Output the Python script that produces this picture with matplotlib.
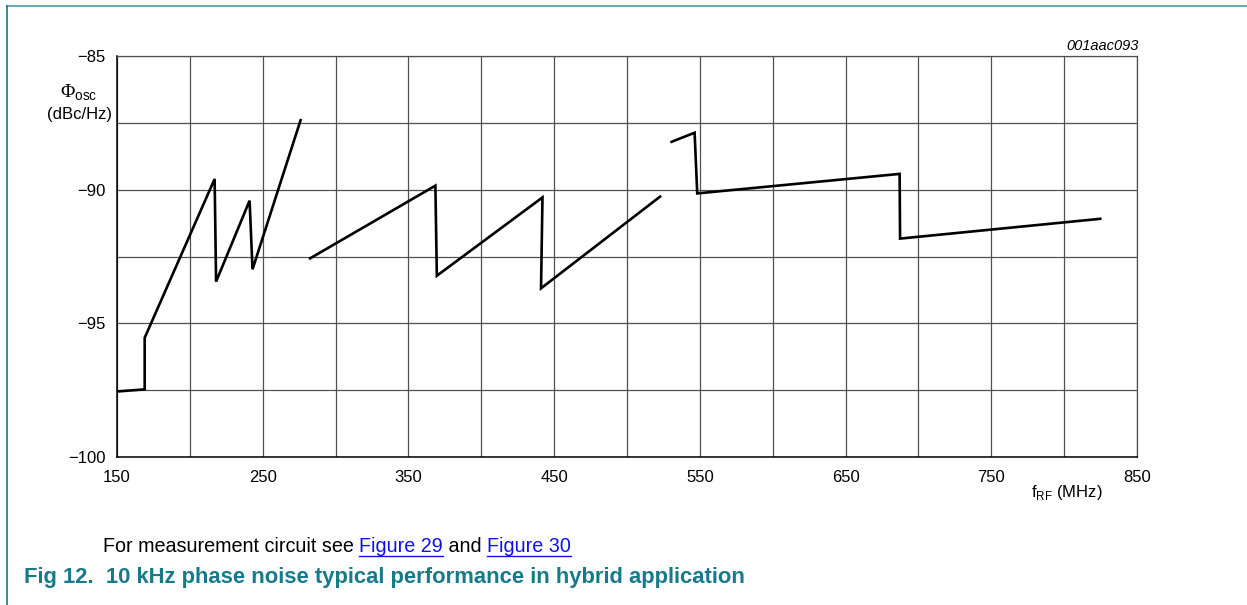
import matplotlib.pyplot as plt
import numpy as np
from matplotlib.lines import Line2D

plt.rcParams['font.family'] = ['Liberation Sans', 'DejaVu Sans']
plt.rcParams['mathtext.fontset'] = 'custom'
plt.rcParams['mathtext.rm'] = 'Liberation Serif'
plt.rcParams['mathtext.sf'] = 'Liberation Sans'

# phase noise curve (three separate band segments), f in MHz, phi in dBc/Hz
seg1_f = [150, 169, 169, 217, 218, 241, 243, 276]
seg1_phi = [-97.55, -97.47, -95.54, -89.6, -93.44, -90.41, -92.98, -87.4]
seg2_f = [282.5, 368.5, 369.5, 442, 441, 522.7]
seg2_phi = [-92.57, -89.85, -93.22, -90.29, -93.69, -90.26]
seg3_f = [530.6, 546.4, 548.2, 687.1, 687.4, 824.8]
seg3_phi = [-88.21, -87.87, -90.14, -89.41, -91.83, -91.09]

xticks = [150, 250, 350, 450, 550, 650, 750, 850]
yticks = [-100, -95, -90, -85]

fig = plt.figure(figsize=(12.47, 6.05), dpi=100)
ax = fig.add_axes([117/1247, 1-457/605, 1020/1247, 401/605])

for fx, py in [(seg1_f, seg1_phi), (seg2_f, seg2_phi), (seg3_f, seg3_phi)]:
    ax.plot(fx, py, color='black', lw=1.9, solid_joinstyle='miter', zorder=3)

ax.set_xlim(150, 850)
ax.set_ylim(-100, -85)
ax.set_xticks(np.arange(150, 851, 50), minor=True)
ax.set_yticks(np.arange(-100, -84, 2.5), minor=True)
ax.set_xticks(xticks)
ax.set_yticks(yticks)
ax.set_xticklabels([str(v) for v in xticks])
ax.set_yticklabels(['\u2212' + str(-v) for v in yticks])
ax.grid(which='both', color='#505050', lw=0.9)
ax.tick_params(which='both', length=0, labelsize=12)
ax.tick_params(axis='x', pad=9)
ax.tick_params(axis='y', pad=8)
for s in ['top', 'right']:
    ax.spines[s].set_color('#505050')
    ax.spines[s].set_linewidth(0.9)
for s in ['bottom', 'left']:
    ax.spines[s].set_color('black')
    ax.spines[s].set_linewidth(1.1)

# axis labels
fig.text(79/1247, 1-93/605, r'$\mathrm{\Phi}_{\mathsf{osc}}$', fontsize=14, ha='center', va='center')
fig.text(112/1247, 1-115/605, '(dBc/Hz)', fontsize=12, ha='right', va='center')
fig.text(1103/1247, 1-492/605, r'$\mathsf{f}_{\mathsf{RF}}$ (MHz)', fontsize=12, ha='right', va='center')
fig.text(1139/1247, 1-46/605, '001aac093', fontsize=10.5, style='italic', ha='right', va='center')

# figure frame
fig.add_artist(Line2D([7/1247, 1], [1-5.5/605, 1-5.5/605], color='#6aaabb', lw=1.5))
fig.add_artist(Line2D([7/1247, 7/1247], [0, 1-5.5/605], color='#1f6f80', lw=1.2))

# caption with links
fig.canvas.draw()
r = fig.canvas.get_renderer()
x0 = 103/1247
yb = 1-547/605
parts = [('For measurement circuit see ', 'black', False), ('Figure 29', '#1010ee', True),
         (' and ', 'black', False), ('Figure 30', '#1010ee', True)]
for txt, col, link in parts:
    t = fig.text(x0, yb, txt, fontsize=14.2, color=col, ha='left', va='center')
    bb = t.get_window_extent(renderer=r)
    w = bb.width / fig.bbox.width
    if link:
        uy = (bb.y0 + 1) / fig.bbox.height
        fig.add_artist(Line2D([x0, x0 + w], [uy, uy], color=col, lw=1.0))
    x0 += w

fig.text(24/1247, 1-578/605, 'Fig 12.  10 kHz phase noise typical performance in hybrid application',
         fontsize=15.8, fontweight='bold', color='#17798a', ha='left', va='center')

fig.savefig('out.png', dpi=100)
